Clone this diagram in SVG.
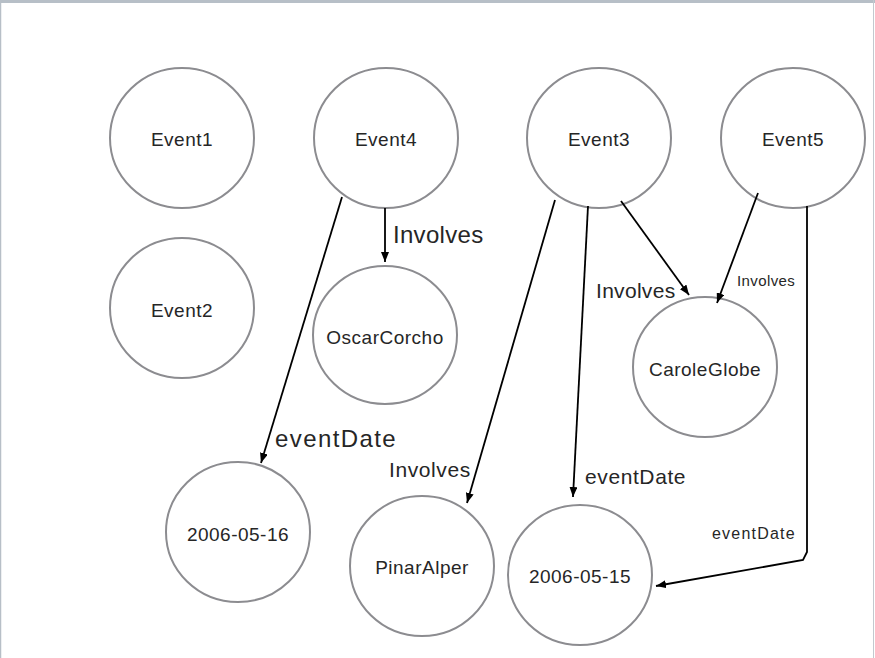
<svg xmlns="http://www.w3.org/2000/svg" width="875" height="658" viewBox="0 0 875 658">
<style>
.node ellipse{fill:#ffffff;stroke:#8c8c90;stroke-width:2}
.node text{font-family:"Liberation Sans",Arial,sans-serif;font-size:19px;letter-spacing:0.5px;fill:#262626;text-anchor:middle}
.edge{fill:none;stroke:#000;stroke-width:1.8}
.lbl{font-family:"Liberation Sans",Arial,sans-serif;fill:#262626}
</style>
<defs>
<marker id="ah" viewBox="0 0 10 8" refX="10" refY="4" markerWidth="10" markerHeight="8" markerUnits="userSpaceOnUse" orient="auto">
<path d="M0,0 L10,4 L0,8 z" fill="#000"/>
</marker>
</defs>
<rect x="0" y="0" width="875" height="658" fill="#ffffff"/>
<rect x="0" y="0" width="875" height="3" fill="#b7bfc7"/>
<line x1="0.5" y1="0" x2="0.5" y2="658" stroke="#b7bfc7" stroke-width="1.5"/>
<line x1="873.5" y1="0" x2="873.5" y2="658" stroke="#c3c9cf" stroke-width="1"/>

<g id="Event1" class="node"><ellipse cx="182" cy="138" rx="72" ry="70"/><text x="182" y="146">Event1</text></g>
<g id="Event4" class="node"><ellipse cx="386" cy="138" rx="72" ry="70"/><text x="386" y="146">Event4</text></g>
<g id="Event3" class="node"><ellipse cx="599" cy="138" rx="72" ry="70"/><text x="599" y="146">Event3</text></g>
<g id="Event5" class="node"><ellipse cx="793" cy="138" rx="72" ry="70"/><text x="793" y="146">Event5</text></g>
<g id="Event2" class="node"><ellipse cx="182" cy="308" rx="72" ry="70"/><text x="182" y="317">Event2</text></g>
<g id="OscarCorcho" class="node"><ellipse cx="385" cy="335" rx="72" ry="69"/><text x="385" y="344">OscarCorcho</text></g>
<g id="CaroleGlobe" class="node"><ellipse cx="705" cy="367" rx="72" ry="70"/><text x="705" y="376">CaroleGlobe</text></g>
<g id="d20060516" class="node"><ellipse cx="238" cy="532" rx="72" ry="70"/><text x="238" y="541">2006-05-16</text></g>
<g id="PinarAlper" class="node"><ellipse cx="422" cy="566" rx="72" ry="70"/><text x="422" y="574">PinarAlper</text></g>
<g id="d20060515" class="node"><ellipse cx="580" cy="575" rx="72" ry="70"/><text x="580" y="583">2006-05-15</text></g>

<g id="connectors">
<line class="edge" x1="385" y1="208" x2="385" y2="262" marker-end="url(#ah)"/>
<line class="edge" x1="342" y1="197" x2="261" y2="463" marker-end="url(#ah)"/>
<line class="edge" x1="555" y1="200" x2="467" y2="503" marker-end="url(#ah)"/>
<line class="edge" x1="588" y1="206" x2="573" y2="497" marker-end="url(#ah)"/>
<line class="edge" x1="621" y1="201" x2="689" y2="295" marker-end="url(#ah)"/>
<line class="edge" x1="758" y1="193" x2="717" y2="303" marker-end="url(#ah)"/>
<polyline class="edge" points="807,206 807,552 803,560 656,586" stroke-width="2.2" marker-end="url(#ah)"/>
<text class="lbl" x="393" y="243" font-size="24" letter-spacing="0.3">Involves</text>
<text class="lbl" x="275" y="447" font-size="24" letter-spacing="1.4">eventDate</text>
<text class="lbl" x="389" y="477" font-size="21" letter-spacing="0.6">Involves</text>
<text class="lbl" x="596" y="298" font-size="21" letter-spacing="0.3">Involves</text>
<text class="lbl" x="737" y="286" font-size="15" letter-spacing="0.4">Involves</text>
<text class="lbl" x="585" y="484" font-size="21" letter-spacing="0.6">eventDate</text>
<text class="lbl" x="712" y="539" font-size="16" letter-spacing="1.2">eventDate</text>
</g>
</svg>
